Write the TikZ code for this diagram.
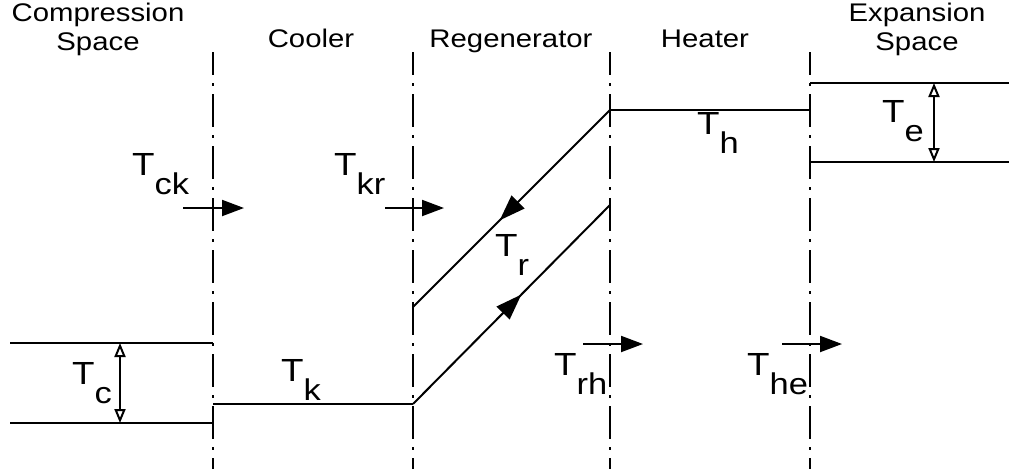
\documentclass[tikz,border=0pt]{standalone}
\usepackage{fontspec}
\setmainfont[FakeStretch=1.15]{Liberation Sans}
\usetikzlibrary{arrows.meta,decorations.markings}
\newcommand{\Tsub}[1]{T\raisebox{-19pt}{\fontsize{30}{30}\selectfont #1}}
\begin{document}
\begin{tikzpicture}[x=1pt,y=-1pt,
  divider/.style={line width=2.2pt, dash pattern=on 33pt off 8pt on 3pt off 8pt, dash phase=10pt},
  level/.style={line width=2pt},
  head/.style={font=\fontsize{25.5}{29}\selectfont, inner sep=0pt, anchor=base},
  lab/.style={font=\fontsize{32}{32}\selectfont, inner sep=0pt, anchor=north west},
  flow/.style={line width=2pt, -{Triangle[length=22pt,width=16pt]}},
  span/.style={line width=2pt, {Triangle[open,length=14pt,width=11pt,fill=white]}-{Triangle[open,length=14pt,width=11pt,fill=white]}},
  midarrow/.style={line width=2pt, postaction={decorate}, decoration={markings,
     mark=at position #1 with {\arrow{Triangle[length=26pt,width=18pt]}}}}
]
\useasboundingbox (0,0) rectangle (1009,469);

% headers
\node[head] (comp1) at (98,21) {Compression};
\node[head] (comp2) at (98,50) {Space};
\node[head] (cool) at (311,47) {Cooler};
\node[head] (regen) at (511,47) {Regenerator};
\node[head] (heat) at (705,47) {Heater};
\node[head] (exp1) at (917,21) {Expansion};
\node[head] (exp2) at (917,50) {Space};

% dividers
\foreach \x/\n in {213/a,413/b,610/c,810/d}{
  \coordinate (\n top) at (\x,52);
  \coordinate (\n bot) at (\x,469);
  \draw[divider] (\n top) -- (\n bot);
}

% compression space
\coordinate (ct1) at (10,343); \coordinate (ct2) at (213,343);
\coordinate (cb1) at (10,423); \coordinate (cb2) at (213,423);
\draw[level] (ct1) -- (ct2);
\draw[level] (cb1) -- (cb2);
\coordinate (cs1) at (120,343); \coordinate (cs2) at (120,423);
\draw[span] (cs1) -- (cs2);

% cooler
\coordinate (k1) at (213,404); \coordinate (k2) at (413,404);
\draw[level] (k1) -- (k2);

% regenerator
\coordinate (ru1) at (610,110); \coordinate (ru2) at (413,307);
\draw[midarrow=0.56] (ru1) -- (ru2);
\coordinate (rl1) at (413,404); \coordinate (rl2) at (610,205);
\draw[midarrow=0.55] (rl1) -- (rl2);

% heater
\coordinate (h1) at (610,110); \coordinate (h2) at (810,110);
\draw[level] (h1) -- (h2);

% expansion space
\coordinate (et1) at (810,83); \coordinate (et2) at (1009,83);
\coordinate (eb1) at (810,162); \coordinate (eb2) at (1009,162);
\draw[level] (et1) -- (et2);
\draw[level] (eb1) -- (eb2);
\coordinate (es1) at (934,83); \coordinate (es2) at (934,162);
\draw[span] (es1) -- (es2);

% flow arrows
\coordinate (f1s) at (183,208); \coordinate (f1e) at (244,208);
\coordinate (f2s) at (385,208); \coordinate (f2e) at (444,208);
\coordinate (f3s) at (583,344); \coordinate (f3e) at (643,344);
\coordinate (f4s) at (782,344); \coordinate (f4e) at (842,344);
\draw[flow] (f1s) -- (f1e);
\draw[flow] (f2s) -- (f2e);
\draw[flow] (f3s) -- (f3e);
\draw[flow] (f4s) -- (f4e);

% labels
\node[lab] (Tck) at (132,153) {\Tsub{ck}};
\node[lab] (Tkr) at (334,153) {\Tsub{kr}};
\node[lab] (Tr) at (495,234) {\Tsub{r}};
\node[lab] (Tc) at (72,362) {\Tsub{c}};
\node[lab] (Tk) at (281,359) {\Tsub{k}};
\node[lab] (Trh) at (554,353) {\Tsub{rh}};
\node[lab] (The) at (747,353) {\Tsub{he}};
\node[lab] (Th) at (697,112) {\Tsub{h}};
\node[lab] (Te) at (882,100) {\Tsub{e}};
\end{tikzpicture}
\end{document}
